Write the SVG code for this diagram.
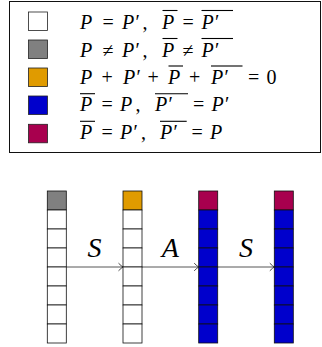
<svg xmlns="http://www.w3.org/2000/svg" width="322" height="347" viewBox="0 0 322 347">
<defs>
<marker id="ah" markerWidth="10" markerHeight="10" refX="0" refY="0" viewBox="-6 -5 8 10" orient="auto" markerUnits="userSpaceOnUse">
<path d="M-4.5,-3.8 Q-1.5,-0.8 0,0 Q-1.5,0.8 -4.5,3.8" fill="none" stroke="#333" stroke-width="0.9"/>
</marker>
</defs>
<g id="legend">
<rect x="9.5" y="1.5" width="311" height="151" fill="#fff" stroke="#111" stroke-width="1"/>
<g id="swatches" stroke="#222" stroke-width="0.8">
<rect x="28.5" y="12" width="19" height="18.5" fill="#fff"/>
<rect x="28.5" y="40" width="19" height="18.5" fill="#808080"/>
<rect x="28.5" y="68" width="19" height="18.5" fill="#e09b00"/>
<rect x="28.5" y="96" width="19" height="18.5" fill="#0000cc"/>
<rect x="28.5" y="124.3" width="19" height="18.5" fill="#a8004e"/>
</g>
<g id="legend-text" font-family="Liberation Serif, serif" font-size="20" fill="#000">
<text y="28.5"><tspan font-style="italic" x="80">P</tspan><tspan x="102.5">=</tspan><tspan font-style="italic" x="122">P′</tspan><tspan x="142.5">,</tspan><tspan font-style="italic" x="162">P</tspan><tspan x="182.5">=</tspan><tspan font-style="italic" x="201.5">P′</tspan></text>
<text y="56.5"><tspan font-style="italic" x="80">P</tspan><tspan x="102.5">≠</tspan><tspan font-style="italic" x="122">P′</tspan><tspan x="142.5">,</tspan><tspan font-style="italic" x="162">P</tspan><tspan x="182.5">≠</tspan><tspan font-style="italic" x="201.5">P′</tspan></text>
<text y="83.5"><tspan font-style="italic" x="80">P</tspan><tspan x="101.5">+</tspan><tspan font-style="italic" x="123">P′</tspan><tspan x="147.5">+</tspan><tspan font-style="italic" x="168">P</tspan><tspan x="189">+</tspan><tspan font-style="italic" x="211">P′</tspan><tspan x="248">=</tspan><tspan x="266.5">0</tspan></text>
<text y="111.3"><tspan font-style="italic" x="80">P</tspan><tspan x="101.5">=</tspan><tspan font-style="italic" x="120">P</tspan><tspan x="135.5">,</tspan><tspan font-style="italic" x="155">P′</tspan><tspan x="193">=</tspan><tspan font-style="italic" x="211.5">P′</tspan></text>
<text y="139.3"><tspan font-style="italic" x="80">P</tspan><tspan x="101.5">=</tspan><tspan font-style="italic" x="120">P′</tspan><tspan x="141">,</tspan><tspan font-style="italic" x="160">P′</tspan><tspan x="191.5">=</tspan><tspan font-style="italic" x="210">P</tspan></text>
</g>
<g id="overlines" stroke="#000" stroke-width="1.1">
<line x1="162.5" y1="10.5" x2="177.5" y2="10.5"/><line x1="201.5" y1="10.5" x2="233" y2="10.5"/>
<line x1="162.5" y1="38.5" x2="177.5" y2="38.5"/><line x1="201.5" y1="38.5" x2="233" y2="38.5"/>
<line x1="168.5" y1="66" x2="183" y2="66"/><line x1="211" y1="66" x2="242.5" y2="66"/>
<line x1="80" y1="93.7" x2="95" y2="93.7"/><line x1="155" y1="93.7" x2="188" y2="93.7"/>
<line x1="80" y1="121.3" x2="95" y2="121.3"/><line x1="160" y1="121.3" x2="186.7" y2="121.3"/>
</g>
</g>
<g id="connectors">
<g stroke="#444" stroke-width="0.9" fill="none">
<line x1="66.3" y1="267" x2="123" y2="267" marker-end="url(#ah)"/>
<line x1="142" y1="267" x2="198.7" y2="267" marker-end="url(#ah)"/>
<line x1="217.7" y1="267" x2="274.3" y2="267" marker-end="url(#ah)"/>
</g>
<g font-family="Liberation Serif, serif" font-size="28" font-style="italic" text-anchor="middle" fill="#000">
<text x="94.5" y="257">S</text>
<text x="170.3" y="257">A</text>
<text x="246" y="257">S</text>
</g>
</g>
<g id="col1" stroke="#111" stroke-width="0.8" fill="#fff">
<rect x="47.3" y="191" width="19" height="19" fill="#808080"/>
<rect x="47.3" y="210" width="19" height="19"/>
<rect x="47.3" y="229" width="19" height="19"/>
<rect x="47.3" y="248" width="19" height="19"/>
<rect x="47.3" y="267" width="19" height="19"/>
<rect x="47.3" y="286" width="19" height="19"/>
<rect x="47.3" y="305" width="19" height="19"/>
<rect x="47.3" y="324" width="19" height="19"/>
</g>
<g id="col2" stroke="#111" stroke-width="0.8" fill="#fff">
<rect x="123" y="191" width="19" height="19" fill="#e09b00"/>
<rect x="123" y="210" width="19" height="19"/>
<rect x="123" y="229" width="19" height="19"/>
<rect x="123" y="248" width="19" height="19"/>
<rect x="123" y="267" width="19" height="19"/>
<rect x="123" y="286" width="19" height="19"/>
<rect x="123" y="305" width="19" height="19"/>
<rect x="123" y="324" width="19" height="19"/>
</g>
<g id="col3" stroke="#111" stroke-width="0.8" fill="#0000cc">
<rect x="198.7" y="191" width="19" height="19" fill="#a8004e"/>
<rect x="198.7" y="210" width="19" height="19"/>
<rect x="198.7" y="229" width="19" height="19"/>
<rect x="198.7" y="248" width="19" height="19"/>
<rect x="198.7" y="267" width="19" height="19"/>
<rect x="198.7" y="286" width="19" height="19"/>
<rect x="198.7" y="305" width="19" height="19"/>
<rect x="198.7" y="324" width="19" height="19"/>
</g>
<g id="col4" stroke="#111" stroke-width="0.8" fill="#0000cc">
<rect x="274.3" y="191" width="19" height="19" fill="#a8004e"/>
<rect x="274.3" y="210" width="19" height="19"/>
<rect x="274.3" y="229" width="19" height="19"/>
<rect x="274.3" y="248" width="19" height="19"/>
<rect x="274.3" y="267" width="19" height="19"/>
<rect x="274.3" y="286" width="19" height="19"/>
<rect x="274.3" y="305" width="19" height="19"/>
<rect x="274.3" y="324" width="19" height="19"/>
</g>
</svg>
